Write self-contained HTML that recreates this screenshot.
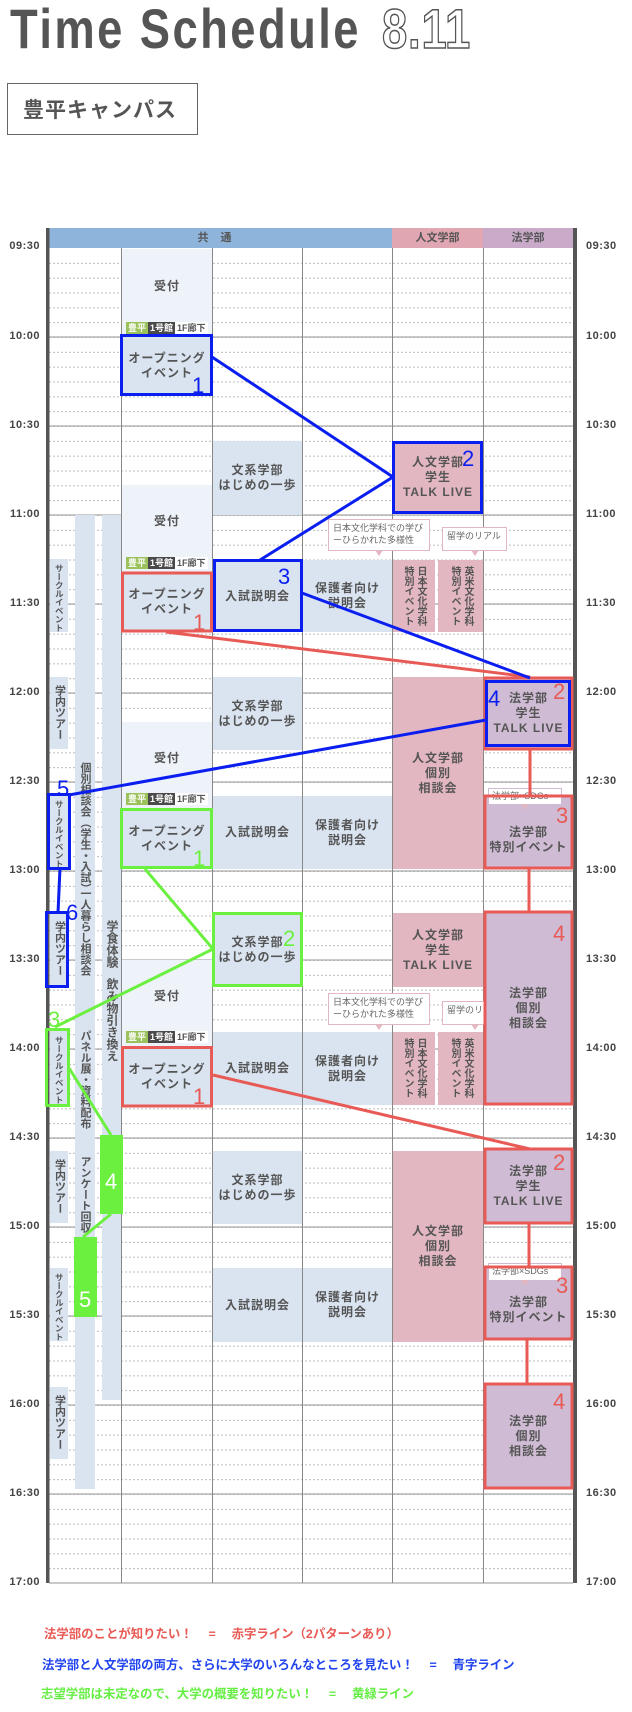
<!DOCTYPE html>
<html><head><meta charset="utf-8"><style>
*{margin:0;padding:0;box-sizing:border-box}
body{width:632px;height:1712px;position:relative;background:#fff;font-family:"Liberation Sans","Noto Sans CJK JP",sans-serif;color:#555;overflow:hidden}
.a{position:absolute}
.b{position:absolute;display:flex;flex-direction:column;align-items:center;justify-content:center;text-align:center;font-size:12px;font-weight:bold;line-height:15px;letter-spacing:1px;color:#555}
.lb{background:#dae4f1}.uk{background:#eef2f9}.pk{background:#e3b7c1}.pu{background:#cfbcd4}
.v{writing-mode:vertical-rl;font-weight:bold;color:#555;letter-spacing:0;white-space:nowrap}
.s{position:absolute;display:flex;justify-content:center;align-items:flex-start;padding-top:5px;overflow:hidden}
.s span{writing-mode:vertical-rl;font-weight:bold;color:#555;white-space:nowrap;line-height:1}
.t{position:absolute;font-size:11px;font-weight:bold;color:#444;width:40px;text-align:right;letter-spacing:.5px}
.tr{text-align:left}
.tag{position:absolute;height:12px;font-size:9px;font-weight:bold;line-height:12px;display:flex}
.tag span{display:block;padding:0 2px}
.bub{position:absolute;background:#fff;border:1.5px solid #e3b7c1;font-size:9px;color:#666;line-height:12px;padding:2px 4px;white-space:nowrap}
.bub:after{content:"";position:absolute;bottom:-6px;left:50%;margin-left:-4px;border:4px solid transparent;border-top-color:#e3b7c1;border-bottom:0;border-width:6px 4px 0 4px}
.lg{position:absolute;font-size:12.4px;font-weight:bold;white-space:pre}
</style></head><body>

<div class="a" style="left:10px;top:-4px;font-size:56px;font-weight:bold;color:#555;letter-spacing:3px;white-space:nowrap;transform:scaleX(0.81);transform-origin:left top">Time Schedule</div>
<div class="a" style="left:382px;top:-4px;font-size:56px;font-weight:bold;color:#fff;-webkit-text-stroke:1.5px #555;letter-spacing:1px;transform:scaleX(0.81);transform-origin:left top">8.11</div>
<div class="a" style="left:7px;top:83px;width:191px;height:52px;border:1.5px solid #666;font-size:21px;font-weight:bold;color:#555;display:flex;align-items:center;padding-left:15px;letter-spacing:1px">豊平キャンパス</div>

<!-- header -->
<div class="a" style="left:49px;top:228px;width:343px;height:20px;background:#8fb4dc;font-size:11px;font-weight:bold;color:#555;text-align:center;line-height:20px;letter-spacing:12px">共通</div>
<div class="a" style="left:392px;top:228px;width:91px;height:20px;background:#e0a6b2;font-size:11px;font-weight:bold;color:#555;text-align:center;line-height:20px">人文学部</div>
<div class="a" style="left:483px;top:228px;width:90px;height:20px;background:#c9abc9;font-size:11px;font-weight:bold;color:#555;text-align:center;line-height:20px">法学部</div>

<svg class="a" style="left:0;top:0" width="632" height="1712">
<defs><pattern id="dp" patternUnits="userSpaceOnUse" x="0" y="248" width="632" height="14.8333"><line x1="49" y1="0.5" x2="573" y2="0.5" stroke="#bbb" stroke-width="1" stroke-dasharray="2,2"/></pattern></defs>
<rect x="49" y="262" width="524" height="1321" fill="url(#dp)"/>
<g stroke="#aaa" stroke-width="1.2">
<line x1="49" y1="337" x2="573" y2="337"/><line x1="49" y1="426" x2="573" y2="426"/><line x1="49" y1="515" x2="573" y2="515"/><line x1="49" y1="604" x2="573" y2="604"/><line x1="49" y1="693" x2="573" y2="693"/><line x1="49" y1="782" x2="573" y2="782"/><line x1="49" y1="871" x2="573" y2="871"/><line x1="49" y1="960" x2="573" y2="960"/><line x1="49" y1="1049" x2="573" y2="1049"/><line x1="49" y1="1138" x2="573" y2="1138"/><line x1="49" y1="1227" x2="573" y2="1227"/><line x1="49" y1="1316" x2="573" y2="1316"/><line x1="49" y1="1405" x2="573" y2="1405"/><line x1="49" y1="1494" x2="573" y2="1494"/><line x1="49" y1="1583" x2="573" y2="1583"/>
</g>
<g stroke="#888" stroke-width="1"><line x1="121.5" y1="248" x2="121.5" y2="1583"/><line x1="212.5" y1="248" x2="212.5" y2="1583"/><line x1="302.5" y1="248" x2="302.5" y2="1583"/><line x1="392.5" y1="248" x2="392.5" y2="1583"/><line x1="483.5" y1="248" x2="483.5" y2="1583"/></g>
<rect x="46" y="228" width="3.5" height="1355" fill="#555"/>
<rect x="573" y="228" width="4" height="1355" fill="#555"/>
</svg>

<!-- time labels -->
<div class="t" style="left:0;top:240px">09:30</div><div class="t tr" style="left:586px;top:240px">09:30</div>
<div class="t" style="left:0;top:330px">10:00</div><div class="t tr" style="left:586px;top:330px">10:00</div>
<div class="t" style="left:0;top:419px">10:30</div><div class="t tr" style="left:586px;top:419px">10:30</div>
<div class="t" style="left:0;top:508px">11:00</div><div class="t tr" style="left:586px;top:508px">11:00</div>
<div class="t" style="left:0;top:597px">11:30</div><div class="t tr" style="left:586px;top:597px">11:30</div>
<div class="t" style="left:0;top:686px">12:00</div><div class="t tr" style="left:586px;top:686px">12:00</div>
<div class="t" style="left:0;top:775px">12:30</div><div class="t tr" style="left:586px;top:775px">12:30</div>
<div class="t" style="left:0;top:864px">13:00</div><div class="t tr" style="left:586px;top:864px">13:00</div>
<div class="t" style="left:0;top:953px">13:30</div><div class="t tr" style="left:586px;top:953px">13:30</div>
<div class="t" style="left:0;top:1042px">14:00</div><div class="t tr" style="left:586px;top:1042px">14:00</div>
<div class="t" style="left:0;top:1131px">14:30</div><div class="t tr" style="left:586px;top:1131px">14:30</div>
<div class="t" style="left:0;top:1220px">15:00</div><div class="t tr" style="left:586px;top:1220px">15:00</div>
<div class="t" style="left:0;top:1309px">15:30</div><div class="t tr" style="left:586px;top:1309px">15:30</div>
<div class="t" style="left:0;top:1398px">16:00</div><div class="t tr" style="left:586px;top:1398px">16:00</div>
<div class="t" style="left:0;top:1487px">16:30</div><div class="t tr" style="left:586px;top:1487px">16:30</div>
<div class="t" style="left:0;top:1576px">17:00</div><div class="t tr" style="left:586px;top:1576px">17:00</div>

<!-- column A -->
<div class="a lb" style="left:75px;top:515px;width:20px;height:974px"></div>
<div class="a lb" style="left:102px;top:515px;width:19px;height:885px"></div>
<div class="a v" style="left:79px;top:762px;font-size:11px;line-height:12px">個別相談会（学生・入試）</div>
<div class="a v" style="left:79px;top:888px;font-size:11px;line-height:12px">一人暮らし相談会</div>
<div class="a v" style="left:79px;top:1030px;font-size:11px;line-height:12px">パネル展・資料配布</div>
<div class="a v" style="left:79px;top:1156px;font-size:11px;line-height:12px">アンケート回収</div>
<div class="a v" style="left:105px;top:920px;font-size:12px;line-height:13px">学食体験</div>
<div class="a v" style="left:105px;top:978px;font-size:12px;line-height:13px">飲み物引き換え</div>

<div class="s lb" style="left:50px;top:559px;width:18px;height:73px"><span style="font-size:8.5px">サークルイベント</span></div>
<div class="s lb" style="left:50px;top:677px;width:18px;height:72px"><span style="font-size:11px;padding-top:3px">学内ツアー</span></div>
<div class="s lb" style="left:50px;top:795px;width:18px;height:73px"><span style="font-size:8.5px">サークルイベント</span></div>
<div class="s lb" style="left:50px;top:913px;width:18px;height:73px"><span style="font-size:11px;padding-top:3px">学内ツアー</span></div>
<div class="s lb" style="left:50px;top:1031px;width:18px;height:73px"><span style="font-size:8.5px">サークルイベント</span></div>
<div class="s lb" style="left:50px;top:1151px;width:18px;height:72px"><span style="font-size:11px;padding-top:3px">学内ツアー</span></div>
<div class="s lb" style="left:50px;top:1268px;width:18px;height:73px"><span style="font-size:8.5px">サークルイベント</span></div>
<div class="s lb" style="left:50px;top:1387px;width:18px;height:72px"><span style="font-size:11px;padding-top:3px">学内ツアー</span></div>

<!-- column B -->
<div class="b uk" style="left:122px;top:249px;width:90px;height:88px;padding-bottom:14px">受付</div>
<div class="b lb" style="left:122px;top:337px;width:90px;height:58px">オープニング<br>イベント</div>
<div class="b uk" style="left:122px;top:485px;width:90px;height:87px;padding-bottom:14px">受付</div>
<div class="b lb" style="left:122px;top:572px;width:90px;height:60px">オープニング<br>イベント</div>
<div class="b uk" style="left:122px;top:722px;width:90px;height:86px;padding-bottom:14px">受付</div>
<div class="b lb" style="left:122px;top:808px;width:90px;height:61px">オープニング<br>イベント</div>
<div class="b uk" style="left:122px;top:960px;width:90px;height:87px;padding-bottom:14px">受付</div>
<div class="b lb" style="left:122px;top:1047px;width:90px;height:60px">オープニング<br>イベント</div>

<div class="tag" style="left:126px;top:322px"><span style="background:#9bc15a;color:#fff">豊平</span><span style="background:#4a4a4a;color:#fff">1号館</span><span style="background:#fff;color:#555">1F廊下</span></div>
<div class="tag" style="left:126px;top:557px"><span style="background:#9bc15a;color:#fff">豊平</span><span style="background:#4a4a4a;color:#fff">1号館</span><span style="background:#fff;color:#555">1F廊下</span></div>
<div class="tag" style="left:126px;top:793px"><span style="background:#9bc15a;color:#fff">豊平</span><span style="background:#4a4a4a;color:#fff">1号館</span><span style="background:#fff;color:#555">1F廊下</span></div>
<div class="tag" style="left:126px;top:1031px"><span style="background:#9bc15a;color:#fff">豊平</span><span style="background:#4a4a4a;color:#fff">1号館</span><span style="background:#fff;color:#555">1F廊下</span></div>

<!-- column C -->
<div class="b lb" style="left:213px;top:441px;width:89px;height:74px">文系学部<br>はじめの一歩</div>
<div class="b lb" style="left:213px;top:560px;width:89px;height:72px">入試説明会</div>
<div class="b lb" style="left:213px;top:677px;width:89px;height:73px">文系学部<br>はじめの一歩</div>
<div class="b lb" style="left:213px;top:796px;width:89px;height:73px">入試説明会</div>
<div class="b lb" style="left:213px;top:913px;width:89px;height:73px">文系学部<br>はじめの一歩</div>
<div class="b lb" style="left:213px;top:1032px;width:89px;height:73px">入試説明会</div>
<div class="b lb" style="left:213px;top:1151px;width:89px;height:73px">文系学部<br>はじめの一歩</div>
<div class="b lb" style="left:213px;top:1268px;width:89px;height:74px">入試説明会</div>

<!-- column D -->
<div class="b lb" style="left:303px;top:560px;width:89px;height:72px">保護者向け<br>説明会</div>
<div class="b lb" style="left:303px;top:796px;width:89px;height:73px">保護者向け<br>説明会</div>
<div class="b lb" style="left:303px;top:1032px;width:89px;height:73px">保護者向け<br>説明会</div>
<div class="b lb" style="left:303px;top:1268px;width:89px;height:74px">保護者向け<br>説明会</div>

<!-- column E -->
<div class="b pk" style="left:393px;top:441px;width:90px;height:73px">人文学部<br>学生<br>TALK LIVE</div>
<div class="a pk v" style="left:393px;top:560px;width:42px;height:72px;font-size:10px;line-height:13px;padding:6px 8px 0 0">日本文化学科<br>特別イベント</div>
<div class="a pk v" style="left:438px;top:560px;width:45px;height:72px;font-size:10px;line-height:13px;padding:6px 9px 0 0">英米文化学科<br>特別イベント</div>
<div class="bub" style="left:328px;top:519px;width:102px;height:32px">日本文化学科での学び<br>ーひらかれた多様性</div>
<div class="bub" style="left:442px;top:527px;width:65px;height:24px;line-height:17px;padding-top:0">留学のリアル</div>
<div class="b pk" style="left:393px;top:677px;width:90px;height:192px">人文学部<br>個別<br>相談会</div>
<div class="b pk" style="left:393px;top:913px;width:90px;height:74px">人文学部<br>学生<br>TALK LIVE</div>
<div class="a pk v" style="left:393px;top:1032px;width:42px;height:73px;font-size:10px;line-height:13px;padding:6px 8px 0 0">日本文化学科<br>特別イベント</div>
<div class="a pk v" style="left:438px;top:1032px;width:45px;height:73px;font-size:10px;line-height:13px;padding:6px 9px 0 0">英米文化学科<br>特別イベント</div>
<div class="bub" style="left:328px;top:993px;width:102px;height:32px">日本文化学科での学び<br>ーひらかれた多様性</div>
<div class="bub" style="left:442px;top:1001px;width:65px;height:24px;line-height:17px;padding-top:0">留学のリアル</div>
<div class="b pk" style="left:393px;top:1151px;width:90px;height:191px">人文学部<br>個別<br>相談会</div>

<!-- column F -->
<div class="b pu" style="left:484px;top:677px;width:89px;height:72px">法学部<br>学生<br>TALK LIVE</div>
<div class="b pu" style="left:484px;top:796px;width:89px;height:73px;padding-top:14px">法学部<br>特別イベント</div>
<div class="bub" style="left:488px;top:788px;width:74px;height:17px;line-height:12px;padding:1px 3px;border-color:#cfbcd4">法学部×SDGs</div>
<div class="b pu" style="left:484px;top:912px;width:89px;height:193px">法学部<br>個別<br>相談会</div>
<div class="b pu" style="left:484px;top:1149px;width:89px;height:74px">法学部<br>学生<br>TALK LIVE</div>
<div class="b pu" style="left:484px;top:1267px;width:89px;height:72px;padding-top:14px">法学部<br>特別イベント</div>
<div class="bub" style="left:488px;top:1263px;width:74px;height:18px;line-height:13px;padding:1px 3px;border-color:#cfbcd4">法学部×SDGs</div>
<div class="b pu" style="left:484px;top:1384px;width:89px;height:104px">法学部<br>個別<br>相談会</div>

<!-- connectors and outlines -->
<svg class="a" style="left:0;top:0" width="632" height="1712" fill="none" stroke-width="3">
<g stroke="#e85a55">
<line x1="166" y1="632" x2="530" y2="677"/>
<line x1="213" y1="1075" x2="530" y2="1149"/>
<line x1="530" y1="749" x2="530" y2="796"/>
<line x1="529" y1="869" x2="529" y2="912"/>
<line x1="529" y1="1223" x2="529" y2="1267"/>
<line x1="527" y1="1339" x2="527" y2="1384"/>
<rect x="122.5" y="573" width="89" height="58"/>
<rect x="485" y="678" width="87" height="71"/>
<rect x="485" y="796" width="87" height="72"/>
<rect x="485" y="912" width="87" height="192"/>
<rect x="122.5" y="1047.5" width="89" height="58.5"/>
<rect x="485" y="1149" width="87" height="74"/>
<rect x="485" y="1267" width="87" height="72"/>
<rect x="485" y="1384" width="87" height="104"/>
</g>
<g stroke="#0a1ef0">
<line x1="212" y1="357" x2="393" y2="477"/>
<line x1="393" y1="477" x2="260" y2="560"/>
<line x1="302" y1="593" x2="530" y2="678"/>
<line x1="486" y1="720" x2="69" y2="795"/>
<line x1="60" y1="868" x2="58" y2="913"/>
<rect x="121.5" y="335.5" width="90" height="59"/>
<rect x="393.5" y="442.5" width="88" height="70"/>
<rect x="214.5" y="560.5" width="87" height="70"/>
<rect x="486.5" y="681.5" width="83" height="64"/>
<rect x="48.5" y="794.5" width="21" height="74"/>
<rect x="46.5" y="912.5" width="21" height="74"/>
</g>
<g stroke="#6cf040">
<line x1="145" y1="869" x2="213" y2="949"/>
<line x1="213" y1="949" x2="55" y2="1027"/>
<line x1="69" y1="1068" x2="111" y2="1135"/>
<line x1="111" y1="1214" x2="83" y2="1237"/>
<rect x="121.5" y="809.5" width="90" height="58"/>
<rect x="213.5" y="913.5" width="88" height="72"/>
<rect x="46.5" y="1029.5" width="22" height="76"/>
</g>
<rect x="100" y="1135" width="23" height="79" fill="#6cf040" stroke="none"/>
<rect x="74" y="1237" width="23" height="80" fill="#6cf040" stroke="none"/>
<g font-family="Liberation Sans, sans-serif" font-size="22" stroke="none" font-weight="normal">
<text x="192" y="393" fill="#0a1ef0">1</text>
<text x="462" y="466" fill="#0a1ef0">2</text>
<text x="278" y="584" fill="#0a1ef0">3</text>
<text x="488" y="706" fill="#0a1ef0">4</text>
<text x="57" y="796" fill="#0a1ef0">5</text>
<text x="66" y="920" fill="#0a1ef0">6</text>
<text x="193" y="630" fill="#e85a55">1</text>
<text x="553" y="699" fill="#e85a55">2</text>
<text x="556" y="823" fill="#e85a55">3</text>
<text x="553" y="941" fill="#e85a55">4</text>
<text x="193" y="1104" fill="#e85a55">1</text>
<text x="553" y="1170" fill="#e85a55">2</text>
<text x="556" y="1293" fill="#e85a55">3</text>
<text x="553" y="1409" fill="#e85a55">4</text>
<text x="193" y="866" fill="#6cf040">1</text>
<text x="283" y="946" fill="#6cf040">2</text>
<text x="48" y="1027" fill="#6cf040">3</text>
<text x="105" y="1189" fill="#fff">4</text>
<text x="79" y="1307" fill="#fff">5</text>
</g>
</svg>

<!-- legend -->
<div class="lg" style="left:44px;top:1624px;color:#e85a55">法学部のことが知りたい！　 =　 赤字ライン（2パターンあり）</div>
<div class="lg" style="left:42px;top:1655px;color:#2244ee">法学部と人文学部の両方、さらに大学のいろんなところを見たい！　 =　 青字ライン</div>
<div class="lg" style="left:41px;top:1684px;color:#66ee44">志望学部は未定なので、大学の概要を知りたい！　 =　 黄緑ライン</div>
</body></html>
